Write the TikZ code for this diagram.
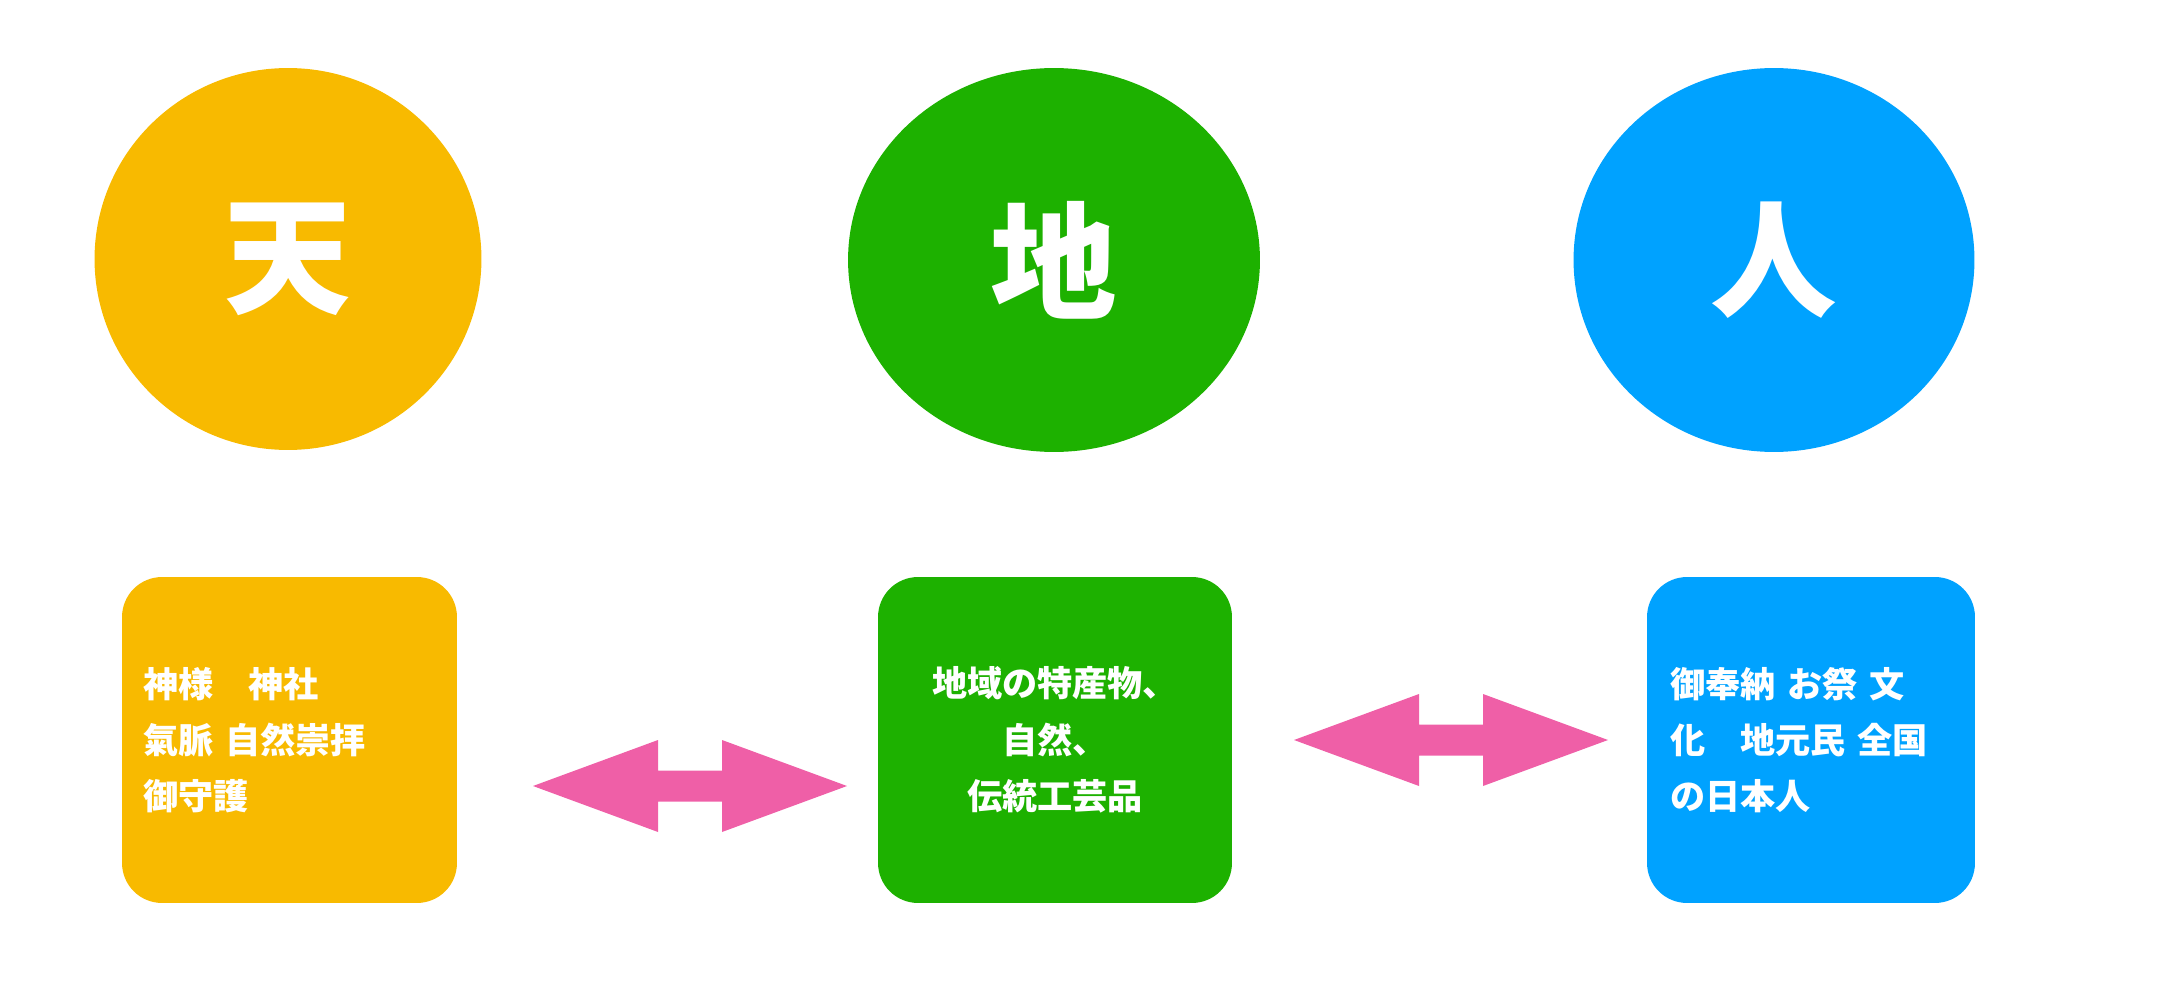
\documentclass[tikz,border=0pt]{standalone}
\usepackage{fontspec}
\usepackage{xcolor}
\usetikzlibrary{shapes.geometric}
\newfontfamily\jpfont{Noto Sans CJK JP}
\definecolor{tenyellow}{HTML}{F8BA00}
\definecolor{chigreen}{HTML}{1DB100}
\definecolor{hitoblue}{HTML}{00A2FF}
\definecolor{arrowpink}{HTML}{EF5FA7}

\begin{document}
\begin{tikzpicture}[x=0.02cm, y=-0.02cm]
    % Define styles
    \tikzstyle{bigcircle} = [ellipse, draw=none, text=white, inner sep=0pt, font=\jpfont\bfseries\fontsize{72pt}{72pt}\selectfont]
    \tikzstyle{infobox} = [rectangle, rounded corners=0.8cm, draw=none, text=white, minimum height=6.52cm, inner sep=0.42cm, font=\jpfont\bfseries\fontsize{20pt}{32pt}\selectfont]
    \tikzstyle{pinkarrow} = [fill=arrowpink]

    \useasboundingbox (0,0) rectangle (2184,997);

    % Circles
    \node[bigcircle, fill=tenyellow, minimum width=7.74cm, minimum height=7.64cm] (ten) at (288,259) {天};
    \node[bigcircle, fill=chigreen, minimum width=8.24cm, minimum height=7.68cm] (chi) at (1054,260) {地};
    \node[bigcircle, fill=hitoblue, minimum width=8.02cm, minimum height=7.68cm] (hito) at (1774,260) {人};

    % Boxes
    \node[infobox, fill=tenyellow, text width=5.86cm, align=left] (tenbox) at (289.5,740) {神様　神社\\氣脈 自然崇拝\\御守護};
    \node[infobox, fill=chigreen, text width=6.24cm, align=center] (chibox) at (1055,740) {地域の特産物、\\自然、\\伝統工芸品};
    \node[infobox, fill=hitoblue, text width=5.64cm, align=left, inner sep=0.46cm] (hitobox) at (1811,740) {御奉納 お祭 文\\化　地元民 全国\\の日本人};

    % Arrows
    \foreach \cx/\cy in {690/786, 1451/740}
        \fill[pinkarrow] (\cx-157,\cy) -- (\cx-32,\cy-46) -- (\cx-32,\cy-15.5) -- (\cx+32,\cy-15.5) -- (\cx+32,\cy-46) -- (\cx+157,\cy)
            -- (\cx+32,\cy+46) -- (\cx+32,\cy+15.5) -- (\cx-32,\cy+15.5) -- (\cx-32,\cy+46) -- cycle;
\end{tikzpicture}
\end{document}
